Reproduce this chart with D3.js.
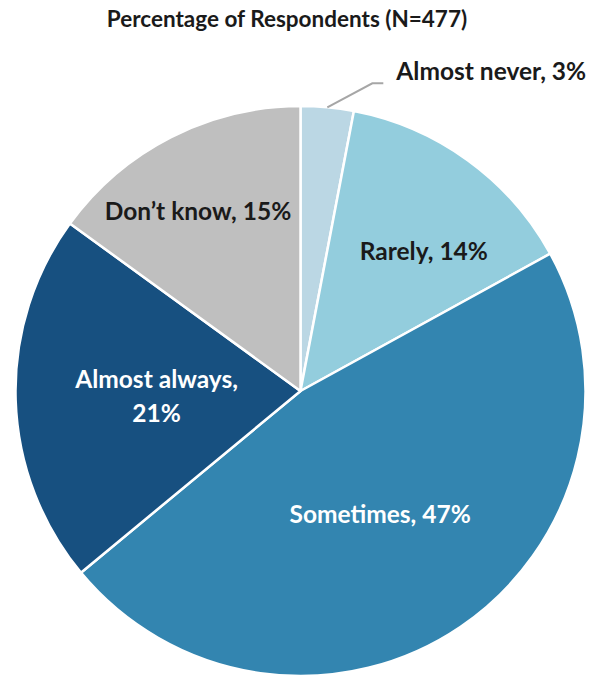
<!DOCTYPE html>
<html>
<head>
<meta charset="utf-8">
<script src="https://cdn.jsdelivr.net/npm/d3@7"></script>
<style>
  html, body { margin: 0; padding: 0; background: #fff; }
  svg { display: block; }
  text { font-family: Lato, "Liberation Sans", sans-serif; font-weight: bold; }
</style>
</head>
<body>
<div id="chart"></div>
<script>
// ---- data ----
const categories = ["Almost never", "Rarely", "Sometimes", "Almost always", "Don\u2019t know"];
const values = [3, 14, 47, 21, 15];
const colors = ["#bbd7e4", "#93cddd", "#3385b0", "#175080", "#bfbfbf"];
const titleText = "Percentage of Respondents (N=477)";

// ---- layout ----
const W = 592, H = 677;
const cx = 300.5, cy = 391, R = 285;
// label placement: radius from centre, plus fine offset (px)
const labelLayout = [
  { r: 0,   dx: 0,   dy: 0,  lines: 1 },   // outside with leader
  { r: 186, dx: 14,  dy: 11, lines: 1 },
  { r: 147, dx: -3,  dy: 2,  lines: 1 },
  { r: 144, dx: 0,   dy: 1,  lines: 2 },
  { r: 206, dx: -9,  dy: 4,  lines: 1 }
];
const labelColors = ["#1a1a1a", "#1a1a1a", "#ffffff", "#ffffff", "#1a1a1a"];

const svg = d3.select("#chart").append("svg")
  .attr("width", W).attr("height", H);

svg.append("text")
  .attr("x", 287).attr("y", 27)
  .attr("text-anchor", "middle")
  .attr("font-size", 22.5)
  .attr("fill", "#1a1a1a")
  .text(titleText);

const data = categories.map((c, i) => ({ cat: c, value: values[i], i }));
const pie = d3.pie().value(d => d.value).sort(null);
const arcs = pie(data);
const arc = d3.arc().innerRadius(0).outerRadius(R);

const g = svg.append("g").attr("transform", `translate(${cx},${cy})`);

g.selectAll("path.slice")
  .data(arcs)
  .enter().append("path")
  .attr("class", "slice")
  .attr("d", arc)
  .attr("fill", d => colors[d.data.i])
  .attr("stroke", "#ffffff")
  .attr("stroke-width", 2.5)
  .attr("stroke-linejoin", "round");

const fs = 24.5;
arcs.forEach((a, k) => {
  const L = labelLayout[k];
  const label = `${a.data.cat}, ${a.data.value}%`;
  if (k === 0) {
    // leader line from slice edge
    const mid = (a.startAngle + a.endAngle) / 2;
    const p0 = [Math.sin(mid) * R, -Math.cos(mid) * R];
    const p1 = [p0[0] + 45, p0[1] - 24];
    const p2 = [p1[0] + 11, p1[1]];
    g.append("polyline")
      .attr("points", [p0, p1, p2].map(p => p.join(",")).join(" "))
      .attr("fill", "none")
      .attr("stroke", "#a6a6a6")
      .attr("stroke-width", 2);
    g.append("text")
      .attr("x", p2[0] + 13).attr("y", p2[1] - 3)
      .attr("font-size", fs)
      .attr("fill", labelColors[k])
      .text(label);
    return;
  }
  const la = d3.arc().innerRadius(L.r).outerRadius(L.r);
  const [x, y] = la.centroid(a);
  const t = g.append("text")
    .attr("text-anchor", "middle")
    .attr("font-size", fs)
    .attr("fill", labelColors[k]);
  if (L.lines === 2) {
    t.append("tspan").attr("x", x + L.dx).attr("y", y + L.dy - 17 + fs * 0.36).text(`${a.data.cat},`);
    t.append("tspan").attr("x", x + L.dx).attr("y", y + L.dy + 17 + fs * 0.36).text(`${a.data.value}%`);
  } else {
    t.attr("x", x + L.dx).attr("y", y + L.dy + fs * 0.36).text(label);
  }
});
</script>
</body>
</html>
